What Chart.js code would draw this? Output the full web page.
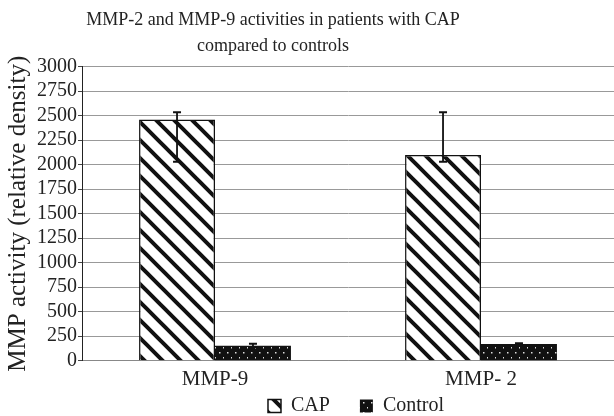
<!DOCTYPE html>
<html>
<head>
<meta charset="utf-8">
<script src="https://cdn.jsdelivr.net/npm/chart.js@4"></script>
<style>
  html, body { margin: 0; padding: 0; background: #fff; }
  #wrap { width: 614px; height: 416px; }
</style>
</head>
<body>
<div id="wrap"><canvas id="chart" width="614" height="416"></canvas></div>
<script>
const categories = ['MMP-9', 'MMP- 2'];
const capValues = [2460, 2100];
const capErrLow = [2030, 2030];
const capErrHigh = [2535, 2535];
const controlValues = [152, 170];
const controlErrLow = [140, 160];
const controlErrHigh = [173, 178];

const serif = "'Liberation Serif', 'DejaVu Serif', serif";

function hatchPattern(ctx) {
  const c = document.createElement('canvas');
  c.width = 18; c.height = 18;
  const p = c.getContext('2d');
  p.fillStyle = '#fff';
  p.fillRect(0, 0, 18, 18);
  p.strokeStyle = '#111';
  p.lineWidth = 4;
  p.beginPath();
  // lines going down-right
  for (let k = -18; k <= 18; k += 18) {
    p.moveTo(k - 2, -2);
    p.lineTo(k + 20, 20);
  }
  p.stroke();
  return ctx.createPattern(c, 'repeat');
}

function dotPattern(ctx) {
  const c = document.createElement('canvas');
  c.width = 8; c.height = 10;
  const p = c.getContext('2d');
  p.fillStyle = '#111';
  p.fillRect(0, 0, 8, 10);
  p.fillStyle = '#ddd';
  p.fillRect(3, 2, 1.5, 1.5);
  p.fillRect(7, 7, 1.5, 1.5);
  return ctx.createPattern(c, 'repeat');
}

const errorBars = {
  id: 'errorBars',
  afterDatasetsDraw(chart) {
    const { ctx, scales: { y } } = chart;
    const sets = [[capErrLow, capErrHigh], [controlErrLow, controlErrHigh]];
    ctx.save();
    ctx.strokeStyle = '#111';
    ctx.lineWidth = 1.8;
    sets.forEach(([lo, hi], i) => {
      chart.getDatasetMeta(i).data.forEach((bar, j) => {
        const yl = y.getPixelForValue(lo[j]);
        const yh = y.getPixelForValue(hi[j]);
        ctx.beginPath();
        ctx.moveTo(bar.x, yl); ctx.lineTo(bar.x, yh);
        ctx.moveTo(bar.x - 4, yh); ctx.lineTo(bar.x + 4, yh);
        ctx.moveTo(bar.x - 4, yl); ctx.lineTo(bar.x + 4, yl);
        ctx.stroke();
      });
    });
    ctx.restore();
  }
};

// the original title sits left of centre, the legend right of centre,
// and the legend row sits lower than its item spacing would give
const nudge = {
  id: 'nudge',
  afterLayout(chart) {
    chart.titleBlock.right -= 68;
    const lg = chart.legend;
    lg.left += 98;
    lg.top = 366;
    lg.bottom = 416;
  }
};

const ctx = document.getElementById('chart').getContext('2d');

new Chart(ctx, {
  type: 'bar',
  data: {
    labels: categories,
    datasets: [{
      label: 'CAP',
      data: capValues,
      backgroundColor: hatchPattern(ctx),
      borderColor: '#111',
      borderWidth: 1.5,
    }, {
      label: 'Control',
      data: controlValues,
      backgroundColor: dotPattern(ctx),
      borderColor: '#111',
      borderWidth: 0,
    }],
  },
  options: {
    responsive: false,
    animation: false,
    layout: { padding: 0 },
    datasets: {
      bar: { categoryPercentage: 0.571, barPercentage: 1 },
    },
    plugins: {
      title: {
        display: true,
        text: ['MMP-2 and MMP-9 activities in patients with CAP', 'compared to controls'],
        font: { family: serif, size: 18, weight: 'normal', lineHeight: 1.4 },
        color: '#222',
        padding: { top: 8, bottom: 8.3 },
      },
      legend: {
        position: 'bottom',
        maxHeight: 27,
        labels: {
          font: { family: serif, size: 20 },
          color: '#222',
          boxWidth: 13,
          boxHeight: 13,
          padding: 30,
        },
      },
      tooltip: { enabled: false },
    },
    scales: {
      x: {
        grid: { display: false },
        border: { color: '#888', width: 1 },
        ticks: { font: { family: serif, size: 21 }, color: '#222', padding: -2 },
        afterFit(scale) { scale.height = 28.3; },
      },
      y: {
        min: 0,
        max: 3000,
        ticks: {
          stepSize: 250,
          autoSkip: false,
          font: { family: serif, size: 20 },
          color: '#222',
          padding: 1,
          callback: v => String(v),
        },
        grid: { color: '#999', lineWidth: 1, tickLength: 4, tickColor: '#444' },
        border: { color: '#222', width: 1 },
        title: {
          display: true,
          text: 'MMP activity (relative density)',
          font: { family: serif, size: 25 },
          color: '#222',
          padding: { top: 3, bottom: 0 },
        },
        afterFit(scale) { scale.width = 82; },
      },
    },
  },
  plugins: [errorBars, nudge],
});
</script>
</body>
</html>
